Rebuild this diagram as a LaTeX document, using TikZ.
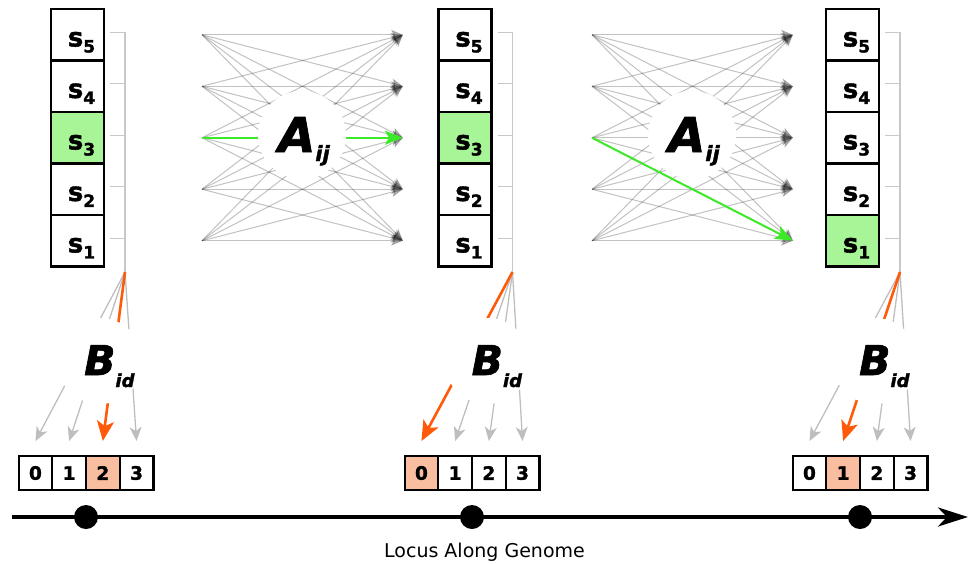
\documentclass[tikz,border=0pt]{standalone}
\usepackage{fontspec}
\setmainfont{DejaVu Sans}[BoldFeatures={FakeBold=1.6}, BoldItalicFeatures={FakeBold=1.6}]
\usetikzlibrary{arrows.meta,calc}
\definecolor{sgreen}{RGB}{168,245,152}
\definecolor{agreen}{RGB}{60,232,40}
\definecolor{bfill}{RGB}{249,190,160}
\definecolor{borange}{RGB}{255,90,10}
\definecolor{brgray}{RGB}{200,200,200}
\definecolor{fangray}{RGB}{190,190,190}
\newcommand{\stlab}[1]{\hspace{8pt}s\raisebox{-6pt}{\fontsize{17}{17}\selectfont #1}}
\tikzset{
  statebox/.style={draw, line width=2.4pt, minimum width=53pt, minimum height=51.5pt,
    inner sep=0pt, text height=23.4pt, text depth=0pt, font=\fontsize{26}{26}\selectfont\bfseries},
  bincell/.style={draw, line width=2.2pt, minimum width=33.7pt, minimum height=34pt,
    inner sep=0pt, font=\fontsize{18.5}{18.5}\selectfont\bfseries},
  bracketline/.style={draw=brgray, line width=1.2pt},
  agrey/.style={draw=black, opacity=0.24, line width=1pt, -{Stealth[length=12pt,width=10pt,inset=3pt]}},
  agreenarrow/.style={draw=agreen, line width=2pt, -{Stealth[length=18pt,width=14pt,inset=4pt]}},
  fanarrow/.style={draw=fangray, line width=1.3pt, -{Stealth[length=14pt,width=12pt,inset=4pt]}},
  fanhl/.style={draw=borange, line width=2.6pt, -{Stealth[length=20pt,width=17pt,inset=5pt]}},
  whitedisc/.style={circle, fill=white, inner sep=0pt},
  bigletter/.style={anchor=base west, inner sep=0pt, font=\bfseries\itshape},
}
\begin{document}
\begin{tikzpicture}[x=1pt,y=-1pt]
\useasboundingbox (0,0) rectangle (972,563);

% ---------- transition fans A_ij ----------
\foreach \reg/\L/\R/\gs/\gt in {1/202/403/3/3, 2/592/793/3/1} {
  \foreach \i in {1,...,5} {
    \pgfmathsetmacro\yy{9+51.5*(5-\i)+25.75}
    \coordinate (a\reg L\i) at (\L,\yy);
    \coordinate (a\reg R\i) at (\R,\yy);
  }
  \foreach \i in {1,...,5} {
    \foreach \j in {1,...,5} {
      \pgfmathtruncatemacro\flag{(\i==\gs && \j==\gt) ? 1 : 0}
      \ifnum\flag=0 \draw[agrey] (a\reg L\i) -- (a\reg R\j);\fi
    }
  }
  \draw[agreenarrow] (a\reg L\gs) -- (a\reg R\gt);
}
\node[whitedisc, minimum size=88pt] (ac1) at (302,135) {};
\node[whitedisc, minimum size=88pt] (ac2) at (692,135) {};
\node[bigletter] (at1) at (278,152) {\fontsize{48}{48}\selectfont A\raisebox{-9pt}{\fontsize{21}{21}\selectfont ij}};
\node[bigletter] (at2) at (668,152) {\fontsize{48}{48}\selectfont A\raisebox{-9pt}{\fontsize{21}{21}\selectfont ij}};

% ---------- state columns, brackets, emission fans ----------
\foreach \col/\cx/\hl/\dx/\hb in {1/77.5/3/86/2, 2/465/3/472/0, 3/852.5/1/860/1} {
  \pgfmathsetmacro\bx{\cx+47.5}
  \pgfmathsetmacro\tx{\cx+32.5}
  \foreach \k in {1,...,5} {
    \pgfmathsetmacro\yy{9+51.5*(5-\k)+25.75}
    \ifnum\k=\hl \def\fc{sgreen}\else\def\fc{white}\fi
    \node[statebox, fill=\fc] (c\col s\k) at (\cx,\yy) {\stlab{\k}};
    \coordinate (tk\col a\k) at (\tx,\yy-2.5);
    \coordinate (tk\col b\k) at (\bx,\yy-2.5);
    \draw[bracketline] (tk\col a\k) -- (tk\col b\k);
  }
  \coordinate (fo\col) at (\bx,272);
  \draw[bracketline] (tk\col b5) -- (fo\col);
  % bins
  \foreach \j in {0,...,3} {
    \pgfmathsetmacro\xx{\dx+(\j-1.5)*33.7}
    \ifnum\j=\hb \def\fc{bfill}\else\def\fc{white}\fi
    \node[bincell, fill=\fc] (b\col c\j) at (\xx,473) {\j};
    \coordinate (ft\col\j) at (\xx,441);
  }
  \foreach \j in {0,...,3} {
    \ifnum\j=\hb\else \draw[fanarrow] (fo\col) -- (ft\col\j);\fi
  }
  \draw[fanhl] (fo\col) -- (ft\col\hb);
  \node[whitedisc, minimum size=86pt] (bc\col) at (\bx-25,361) {};
  \node[bigletter] (bt\col) at (\bx-41,375) {\fontsize{41}{41}\selectfont B\raisebox{-12pt}{\fontsize{18}{18}\selectfont id}};
}

% ---------- genome axis ----------
\coordinate (ax0) at (12,517);
\coordinate (ax1) at (968,517);
\draw[line width=4pt, -{Stealth[length=30pt,width=19pt,inset=9pt]}] (ax0) -- (ax1);
\foreach \n/\x in {1/86, 2/472, 3/860} {
  \node[circle, fill=black, minimum size=24pt, inner sep=0pt] (dot\n) at (\x,517) {};
}
\node[anchor=base, inner sep=0pt, font=\fontsize{19}{19}\selectfont] (lbl) at (484.5,557) {Locus Along Genome};
\end{tikzpicture}
\end{document}
